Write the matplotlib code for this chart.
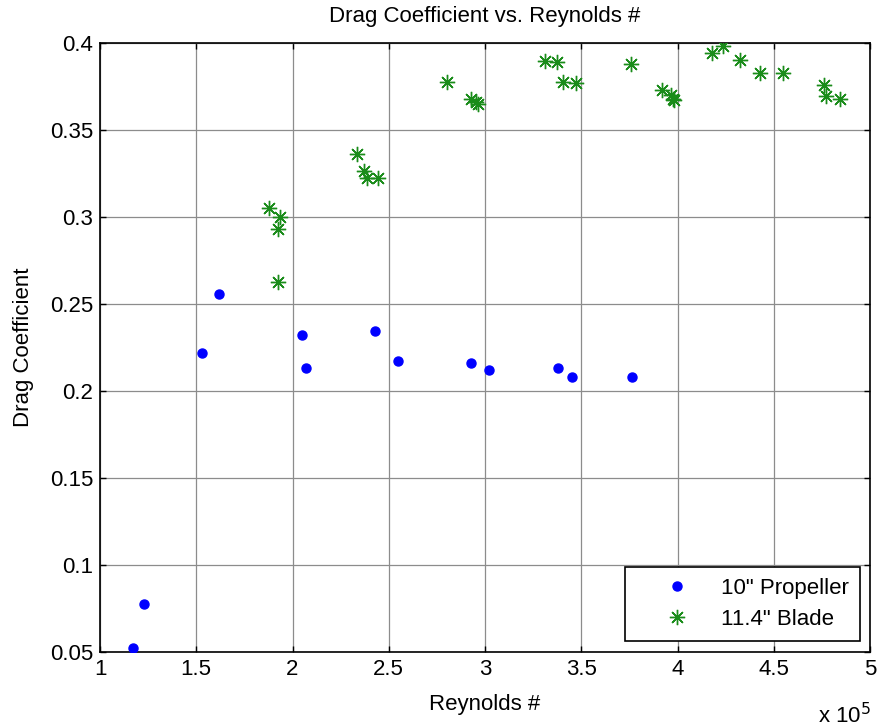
import matplotlib
matplotlib.use("Agg")
import matplotlib.pyplot as plt

# 10" Propeller (Reynolds # in units of 1e5)
prop_re = [1.171, 1.228, 1.531, 1.616, 2.048, 2.068, 2.426, 2.546, 2.925, 3.019, 3.377, 3.453, 3.765]
prop_cd = [0.0523, 0.0776, 0.222, 0.2557, 0.2322, 0.213, 0.2345, 0.217, 0.216, 0.212, 0.213, 0.208, 0.208]

# 11.4" Blade
blade_re = [1.877, 1.933, 1.923, 1.923,
            2.336, 2.374, 2.388, 2.446,
            2.800, 2.926, 2.955, 2.965,
            3.314, 3.376, 3.405, 3.471, 3.757,
            3.918, 3.965, 3.975, 3.980,
            4.180, 4.235, 4.326, 4.428, 4.546,
            4.759, 4.769, 4.842]
blade_cd = [0.3053, 0.300, 0.293, 0.2625,
            0.336, 0.3266, 0.3226, 0.3226,
            0.3774, 0.3676, 0.366, 0.3648,
            0.3897, 0.389, 0.3778, 0.3768, 0.388,
            0.373, 0.370, 0.368, 0.367,
            0.394, 0.3985, 0.390, 0.3828, 0.383,
            0.3757, 0.3695, 0.368]

xticks = [1, 1.5, 2, 2.5, 3, 3.5, 4, 4.5, 5]
xticklabels = ["1", "1.5", "2", "2.5", "3", "3.5", "4", "4.5", "5"]
yticks = [0.05, 0.1, 0.15, 0.2, 0.25, 0.3, 0.35, 0.4]
yticklabels = ["0.05", "0.1", "0.15", "0.2", "0.25", "0.3", "0.35", "0.4"]

plt.rcParams['font.family'] = ['Liberation Sans', 'DejaVu Sans']
FS = 16

fig = plt.figure(figsize=(8.81, 7.28), dpi=100)
ax = fig.add_axes([100/881, 1 - 652/728, 770/881, (652 - 43)/728])

ax.plot(prop_re, prop_cd, linestyle='none', marker='o', markersize=6.5,
        color='#0000ff', markeredgecolor='#0000ff', label='10" Propeller', zorder=3)
ax.plot(blade_re, blade_cd, linestyle='none', marker=(8, 2, 0), markersize=11,
        markeredgewidth=1.0, color='#008000', markeredgecolor='#1a8c1a', label='11.4" Blade', zorder=3)

ax.set_xlim(1, 5)
ax.set_ylim(0.05, 0.4)
ax.set_xticks(xticks)
ax.set_xticklabels(xticklabels)
ax.set_yticks(yticks)
ax.set_yticklabels(yticklabels)
ax.grid(True, color='#8c8c8c', linewidth=0.9, linestyle='-')
ax.set_axisbelow(True)
ax.tick_params(direction='in', length=4, width=1, top=True, right=True,
               labelsize=FS, pad=5)
for s in ax.spines.values():
    s.set_linewidth(1.2)

ax.set_xlabel('Reynolds #', fontsize=FS, labelpad=10)
ax.set_ylabel('Drag Coefficient', fontsize=FS, labelpad=11)
ax.set_title('Drag Coefficient vs. Reynolds #', fontsize=FS, pad=15,
             family=['Liberation Sans Narrow', 'Liberation Sans', 'DejaVu Sans'])

fig.text(818/881, 1 - 716/728, 'x 10$^{5}$', fontsize=FS, ha='left', va='center')

leg = ax.legend(loc='lower right', bbox_to_anchor=(860/881, 1 - 641/728),
                bbox_transform=fig.transFigure, borderaxespad=0,
                fontsize=FS, frameon=True, fancybox=False,
                edgecolor='black', framealpha=1,
                handlelength=3.6, handletextpad=0.2, borderpad=0.5,
                labelspacing=0.45)
leg.get_frame().set_linewidth(1.2)

fig.savefig('out.png', dpi=100, facecolor='white')
